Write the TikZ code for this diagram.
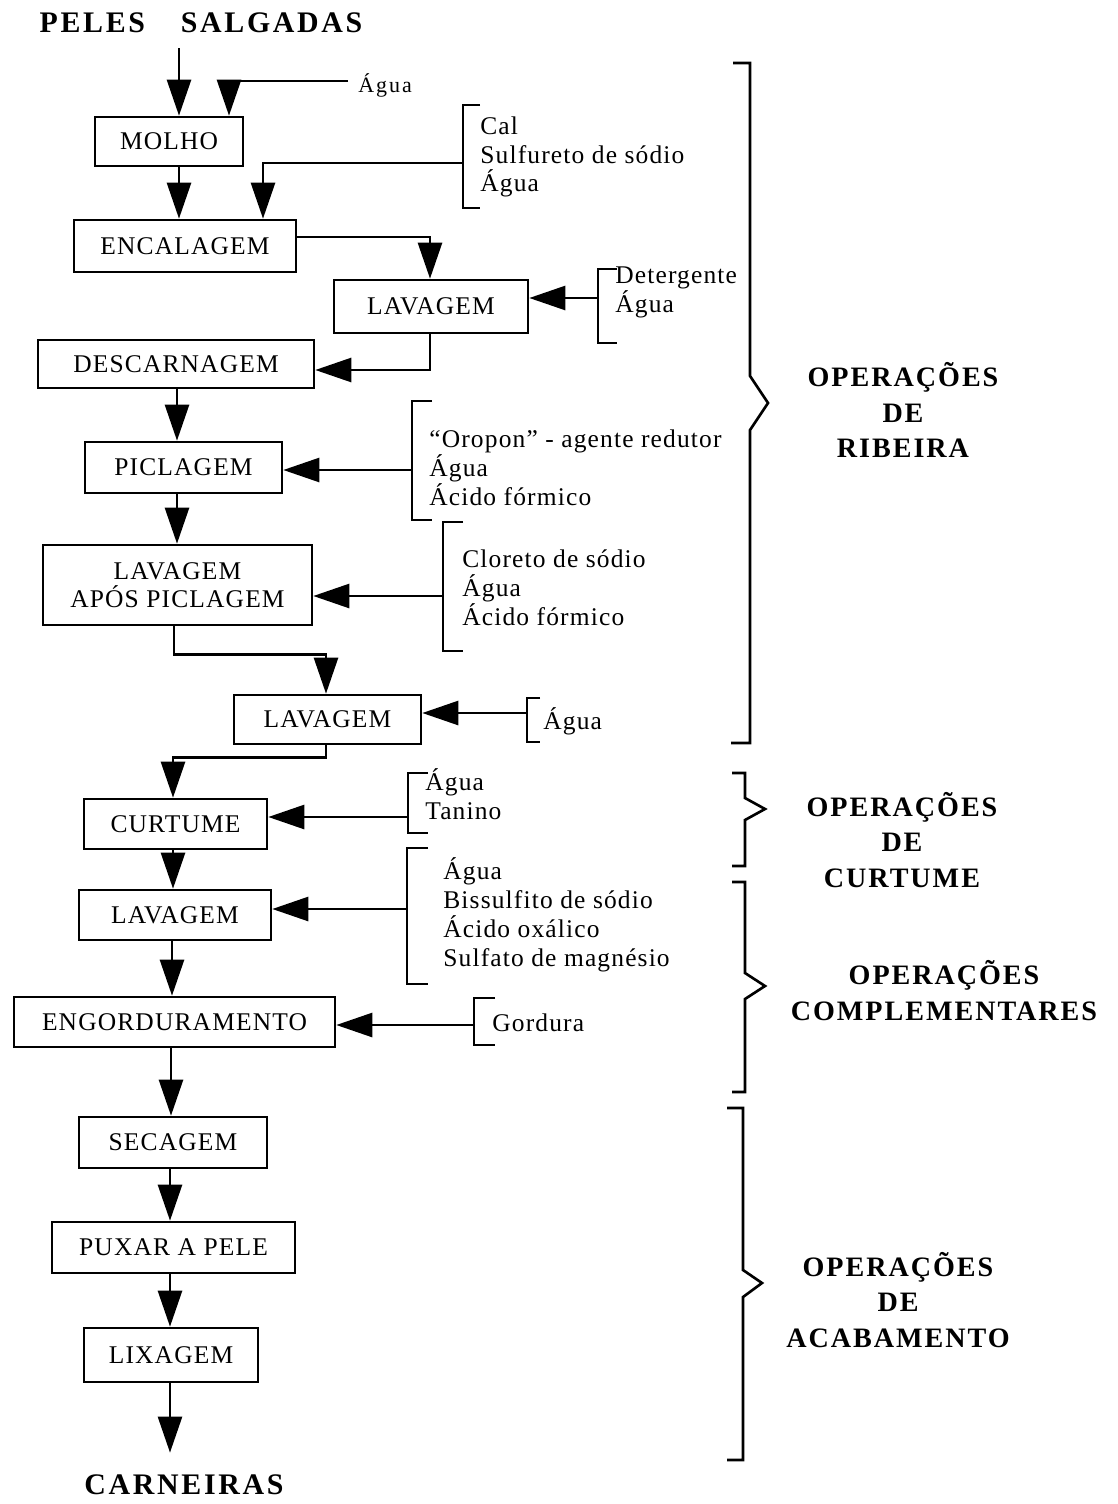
\documentclass[tikz,border=0pt]{standalone}
\usepackage{fontspec}
\setmainfont{Liberation Serif}
\usetikzlibrary{arrows.meta, positioning}

\newcommand{\stagefont}{\fontsize{14.5}{16}\selectfont\addfontfeature{LetterSpace=4.5}}
\newcommand{\inputfont}{\fontsize{14.5}{16.44}\selectfont\addfontfeature{LetterSpace=4.5}}
\newcommand{\smallinfont}{\fontsize{12.5}{14}\selectfont\addfontfeature{LetterSpace=9}}
\newcommand{\partfont}{\fontsize{16}{20.4}\selectfont\bfseries\addfontfeature{LetterSpace=7}}
\newcommand{\termfont}{\fontsize{17}{19}\selectfont\bfseries\addfontfeature{LetterSpace=9}}

\begin{document}
\begin{tikzpicture}[x=0.02cm, y=-0.02cm,
	stage/.style={draw, line width=1.5pt, inner sep=0pt, align=center, font=\stagefont},
	flow/.style={line width=1.5pt, -{Triangle[length=7.2mm, width=4.8mm]}},
	wire/.style={line width=1.5pt},
	input/.style={anchor=west, inner sep=0pt, align=left, font=\inputfont},
	part/.style={align=center, inner sep=0pt, font=\partfont}]
	\useasboundingbox (0,0) rectangle (1118,1504);

	% Raw and finished product:
	\node[font=\termfont, inner xsep=0pt, inner ysep=0.3cm] (peles) at (201,23) {PELES\hspace{1.2em}SALGADAS};
	\node[font=\termfont, inner xsep=0pt, inner ysep=0.44cm] (carne) at (184,1485) {CARNEIRAS};

	% Stages:
	\node[stage, minimum width=2.96cm, minimum height=0.98cm] (molho) at (169,141.5) {MOLHO};
	\node[stage, minimum width=4.44cm, minimum height=1.04cm] (encal) at (185,246) {ENCALAGEM};
	\node[stage, minimum width=3.88cm, minimum height=1.06cm] (lavA) at (431,306.5) {LAVAGEM};
	\node[stage, minimum width=5.52cm, minimum height=0.96cm] (desc) at (176,364) {DESCARNAGEM};
	\node[stage, minimum width=3.94cm, minimum height=1.02cm] (picl) at (183.5,467.5) {PICLAGEM};
	\node[stage, minimum width=5.38cm, minimum height=1.6cm] (lavpic) at (177.5,585) {LAVAGEM\\APÓS PICLAGEM};
	\node[stage, minimum width=3.74cm, minimum height=0.98cm] (lavB) at (327.5,719.5) {LAVAGEM};
	\node[stage, minimum width=3.66cm, minimum height=1cm] (curt) at (175.5,824) {CURTUME};
	\node[stage, minimum width=3.84cm, minimum height=1cm] (lavC) at (175,915) {LAVAGEM};
	\node[stage, minimum width=6.42cm, minimum height=1cm] (engord) at (174.5,1022) {ENGORDURAMENTO};
	\node[stage, minimum width=3.76cm, minimum height=1.02cm] (secag) at (173,1142.5) {SECAGEM};
	\node[stage, minimum width=4.86cm, minimum height=1.02cm] (puxar) at (173.5,1247.5) {PUXAR A PELE};
	\node[stage, minimum width=3.48cm, minimum height=1.08cm] (lixag) at (171,1355) {LIXAGEM};

	% Inputs and their brackets:
	\node[input, font=\smallinfont] (agua0) at (358,85) {Água};
	\coordinate (aguain) at (348,81);
	\node[input] (cal) at (480,157) {Cal\\Sulfureto de sódio\\Água};
	\draw[wire] (480,105) -- (463,105) -- (463,208) -- (480,208);
	\coordinate (calin) at (463,163);
	\node[input] (deterg) at (615,292.5) {Detergente\\Água};
	\draw[wire] (617,269) -- (598,269) -- (598,343) -- (617,343);
	\coordinate (detin) at (598,298);
	\node[input] (oropon) at (429,468) {“Oropon” - agente redutor\\Água\\Ácido fórmico};
	\draw[wire] (432,401) -- (412,401) -- (412,520) -- (432,520);
	\coordinate (oroin) at (412,470);
	\node[input] (cloreto) at (462,588) {Cloreto de sódio\\Água\\Ácido fórmico};
	\draw[wire] (463,522) -- (443,522) -- (443,651) -- (463,651);
	\coordinate (cloin) at (443,596);
	\node[input] (agua1) at (543,721) {Água};
	\draw[wire] (540,698) -- (527,698) -- (527,742) -- (540,742);
	\coordinate (aguaBin) at (527,713);
	\node[input] (tanino) at (425,794.5) {Água\\Tanino};
	\draw[wire] (428,773) -- (408,773) -- (408,833) -- (428,833);
	\coordinate (tanin) at (408,817);
	\node[input] (bissulf) at (443,914.75) {Água\\Bissulfito de sódio\\Ácido oxálico\\Sulfato de magnésio};
	\draw[wire] (428,848) -- (407,848) -- (407,984) -- (428,984);
	\coordinate (bisin) at (407,909);
	\node[input] (gordura) at (492,1023) {Gordura};
	\draw[wire] (495,998) -- (474,998) -- (474,1045) -- (495,1045);
	\coordinate (gorin) at (474,1025);

	% Flow:
	\draw[flow] (peles.south -| 179,0) -- (molho.north -| 179,0);
	\draw[flow] (aguain) -| (molho.north -| 229,0);
	\draw[flow] (molho.south -| 179,0) -- (encal.north -| 179,0);
	\draw[flow] (calin) -| (encal.north -| 263,0);
	\draw[flow] (encal.east |- 0,237) -| (lavA.north -| 430,0);
	\draw[flow] (detin) -- (lavA.east |- detin);
	\draw[flow] (lavA.south -| 430,0) |- (desc.east |- 0,370);
	\draw[flow] (desc.south -| 177,0) -- (picl.north -| 177,0);
	\draw[flow] (oroin) -- (picl.east |- oroin);
	\draw[flow] (picl.south -| 177,0) -- (lavpic.north -| 177,0);
	\draw[flow] (cloin) -- (lavpic.east |- cloin);
	\draw[flow] (lavpic.south -| 174,0) -- ++(0,28) -| (lavB.north -| 326,0);
	\draw[flow] (aguaBin) -- (lavB.east |- aguaBin);
	\draw[flow] (lavB.south -| 326,0) -- ++(0,12) -| (curt.north -| 173,0);
	\draw[flow] (tanin) -- (curt.east |- tanin);
	\draw[flow] (curt.south -| 173,0) -- (lavC.north -| 173,0);
	\draw[flow] (bisin) -- (lavC.east |- bisin);
	\draw[flow] (lavC.south -| 172,0) -- (engord.north -| 172,0);
	\draw[flow] (gorin) -- (engord.east |- gorin);
	\draw[flow] (engord.south -| 171,0) -- (secag.north -| 171,0);
	\draw[flow] (secag.south -| 170,0) -- (puxar.north -| 170,0);
	\draw[flow] (puxar.south -| 170,0) -- (lixag.north -| 170,0);
	\draw[flow] (lixag.south -| 170,0) -- (carne.north -| 170,0);

	% Groups of operations:
	\draw[wire] (733,63) -- (750,63) -- (750,376) -- (768,403) -- (750,430) -- (750,743) -- (731,743);
	\node[part] (ribeira) at (903,410) {OPERAÇÕES\\DE\\RIBEIRA};
	\draw[wire] (732,773) -- (745,773) -- (745,798) -- (765,809) -- (745,820) -- (745,866) -- (732,866);
	\node[part] (curtume) at (902,840) {OPERAÇÕES\\DE\\CURTUME};
	\draw[wire] (732,882) -- (745,882) -- (745,973) -- (765,986) -- (745,999) -- (745,1092) -- (732,1092);
	\node[part] (compl) at (944,990.5) {OPERAÇÕES\\COMPLEMENTARES};
	\draw[wire] (727,1108) -- (743,1108) -- (743,1270) -- (762,1283) -- (743,1297) -- (743,1460) -- (727,1460);
	\node[part] (acab) at (898,1300) {OPERAÇÕES\\DE\\ACABAMENTO};
\end{tikzpicture}
\end{document}
